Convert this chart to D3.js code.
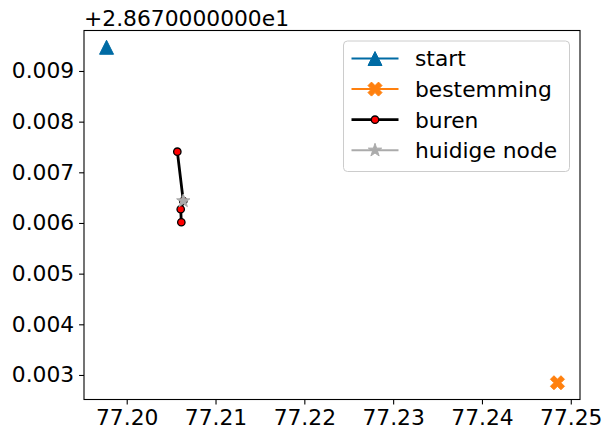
<!DOCTYPE html>
<html>
<head>
<meta charset="utf-8">
<script src="https://cdn.jsdelivr.net/npm/d3@7"></script>
<style>
html,body{margin:0;padding:0;background:#fff;}
svg{display:block;font-family:"DejaVu Sans",sans-serif;}
</style>
</head>
<body>
<svg id="chart" width="611" height="439"></svg>
<script>
// ---- data ----
const startPoint = [{x: 77.19773, y: 28.679468}];
const destPoint = [{x: 77.24850, y: 28.672847}];
const neighbourX = [77.20570, 77.20637, 77.20608, 77.20615];
const neighbourY = [28.677407, 28.676434, 28.676271, 28.676014];
const currentNode = [{x: 77.20637, y: 28.676434}];
const xTicks = [77.20, 77.21, 77.22, 77.23, 77.24, 77.25];
const xTickLabels = ["77.20", "77.21", "77.22", "77.23", "77.24", "77.25"];
const yOffset = 28.67;
const yOffsetLabel = "+2.8670000000e1";
const yTicks = [0.003, 0.004, 0.005, 0.006, 0.007, 0.008, 0.009];
const yTickLabels = ["0.003", "0.004", "0.005", "0.006", "0.007", "0.008", "0.009"];
const legendLabels = ["start", "bestemming", "buren", "huidige node"];

// ---- layout ----
const L = 84, R = 580, T = 30.5, B = 399.5;
const FS = 21.8;
const COL = {start: "#006BA4", dest: "#FF800E", cur: "#ABABAB"};

const neighbours = neighbourX.map((x, i) => ({x, y: neighbourY[i]}));
const all = startPoint.concat(destPoint, neighbours, currentNode);
const xe = d3.extent(all, d => d.x), ye = d3.extent(all, d => d.y);
const xm = (xe[1] - xe[0]) * 0.05, ym = (ye[1] - ye[0]) * 0.05;
const x = d3.scaleLinear().domain([xe[0] - xm, xe[1] + xm]).range([L, R]);
const y = d3.scaleLinear().domain([ye[0] - ym, ye[1] + ym]).range([B, T]);

const svg = d3.select("#chart");

function triPath(s) { const h = s / 2; return `M0,${-h}L${-h},${h}L${h},${h}Z`; }
function xPath(s) {
  const k = s / 4;
  const v = [[-1,-2],[0,-1],[1,-2],[2,-1],[1,0],[2,1],[1,2],[0,1],[-1,2],[-2,1],[-1,0],[-2,-1]];
  return "M" + v.map(p => `${p[0]*k},${p[1]*k}`).join("L") + "Z";
}
function starPath(s) {
  const ro = s / 2, ri = ro * 0.381966, pts = [];
  for (let i = 0; i < 10; i++) {
    const r = i % 2 ? ri : ro, a = Math.PI / 5 * i;
    pts.push([r * Math.sin(a), -r * Math.cos(a)]);
  }
  return "M" + pts.map(p => p.join(",")).join("L") + "Z";
}
const MS = 14;

svg.append("clipPath").attr("id", "clip").append("rect")
  .attr("x", L).attr("y", T).attr("width", R - L).attr("height", B - T);
const plot = svg.append("g").attr("clip-path", "url(#clip)");

plot.selectAll(".st").data(startPoint).join("path")
  .attr("d", triPath(MS)).attr("fill", COL.start).attr("stroke", COL.start).attr("stroke-width", 1)
  .attr("transform", d => `translate(${x(d.x)},${y(d.y)})`);
plot.selectAll(".ds").data(destPoint).join("path")
  .attr("d", xPath(MS)).attr("fill", COL.dest).attr("stroke", COL.dest).attr("stroke-width", 1)
  .attr("transform", d => `translate(${x(d.x)},${y(d.y)})`);
plot.append("path").datum(neighbours)
  .attr("d", d3.line().x(d => x(d.x)).y(d => y(d.y)))
  .attr("fill", "none").attr("stroke", "#000").attr("stroke-width", 2.8).attr("stroke-linejoin", "round");
plot.selectAll(".nb").data(neighbours).join("circle")
  .attr("cx", d => x(d.x)).attr("cy", d => y(d.y)).attr("r", 3.7)
  .attr("fill", "#ff0000").attr("stroke", "#000").attr("stroke-width", 1.3);
plot.selectAll(".cn").data(currentNode).join("path")
  .attr("d", starPath(MS)).attr("fill", COL.cur).attr("stroke", COL.cur).attr("stroke-width", 1)
  .attr("transform", d => `translate(${x(d.x)},${y(d.y)})`);

svg.append("rect").attr("x", L).attr("y", T).attr("width", R - L).attr("height", B - T)
  .attr("fill", "none").attr("stroke", "#000").attr("stroke-width", 1.1);

const xa = svg.append("g").attr("transform", `translate(0,${B})`)
  .call(d3.axisBottom(x).tickValues(xTicks).tickSize(4.9).tickPadding(4.9)
    .tickFormat((d, i) => xTickLabels[i]));
xa.select(".domain").remove();
xa.selectAll("line").attr("stroke", "#000").attr("stroke-width", 1.1);
xa.selectAll("text").attr("font-size", FS).attr("font-family", "DejaVu Sans").attr("fill", "#000");

const ya = svg.append("g").attr("transform", `translate(${L},0)`)
  .call(d3.axisLeft(y).tickValues(yTicks.map(v => v + yOffset)).tickSize(4.9).tickPadding(4.9)
    .tickFormat((d, i) => yTickLabels[i]));
ya.select(".domain").remove();
ya.selectAll("line").attr("stroke", "#000").attr("stroke-width", 1.1);
ya.selectAll("text").attr("font-size", FS).attr("font-family", "DejaVu Sans").attr("fill", "#000");

svg.append("text").attr("x", L).attr("y", 25.5).attr("font-size", FS).attr("fill", "#000")
  .text(yOffsetLabel);

const lg = svg.append("g");
lg.append("rect").attr("x", 343.5).attr("y", 41).attr("width", 226).attr("height", 130.5)
  .attr("rx", 4).attr("fill", "#fff").attr("fill-opacity", 0.8)
  .attr("stroke", "#cccccc").attr("stroke-width", 1);
const ly0 = 58.5, ldy = 30.6, lx0 = 351.5, lx1 = 398.5, lxm = 375;
const legendDefs = [
  {color: COL.start, w: 2, mark: "tri"},
  {color: COL.dest, w: 2, mark: "x"},
  {color: "#000", w: 2.8, mark: "circle"},
  {color: COL.cur, w: 2, mark: "star"}
];
legendDefs.forEach((d, i) => {
  const yy = ly0 + i * ldy;
  lg.append("line").attr("x1", lx0).attr("x2", lx1).attr("y1", yy).attr("y2", yy)
    .attr("stroke", d.color).attr("stroke-width", d.w);
  if (d.mark === "circle") {
    lg.append("circle").attr("cx", lxm).attr("cy", yy).attr("r", 3.7)
      .attr("fill", "#ff0000").attr("stroke", "#000").attr("stroke-width", 1.3);
  } else {
    const p = d.mark === "tri" ? triPath(MS) : d.mark === "x" ? xPath(MS) : starPath(MS);
    lg.append("path").attr("d", p).attr("fill", d.color).attr("stroke", d.color).attr("stroke-width", 1)
      .attr("transform", `translate(${lxm},${yy})`);
  }
  lg.append("text").attr("x", 415).attr("y", yy).attr("dy", "0.36em").attr("font-size", FS)
    .attr("fill", "#000").text(legendLabels[i]);
});
</script>
</body>
</html>
